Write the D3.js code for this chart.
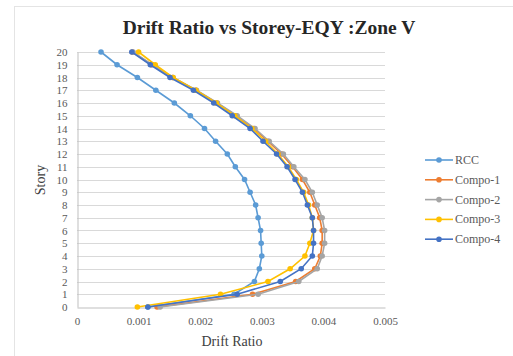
<!DOCTYPE html>
<html><head><meta charset="utf-8">
<script src="https://cdn.jsdelivr.net/npm/d3@7"></script>
<style>body{margin:0;background:#fff}svg{display:block}</style>
</head><body>
<script>
const storeys = [0,1,2,3,4,5,6,7,8,9,10,11,12,13,14,15,16,17,18,19,20];
const seriesNames = ["RCC","Compo-1","Compo-2","Compo-3","Compo-4"];
const seriesColors = ["#5B9BD5","#ED7D31","#A5A5A5","#FFC000","#4472C4"];
const rcc    = [0.00115,0.00255,0.00288,0.00296,0.00300,0.00299,0.00298,0.00294,0.00290,0.00281,0.00272,0.00257,0.00244,0.00225,0.00207,0.00184,0.00158,0.00128,0.00098,0.00065,0.00039];
const compo1 = [0.00130,0.00285,0.00355,0.00386,0.00395,0.00398,0.00398,0.00394,0.00386,0.00378,0.00366,0.00350,0.00332,0.00310,0.00287,0.00258,0.00227,0.00193,0.00155,0.00121,0.00090];
const compo2 = [0.00135,0.00294,0.00360,0.00390,0.00398,0.00402,0.00402,0.00398,0.00390,0.00382,0.00370,0.00352,0.00335,0.00312,0.00289,0.00260,0.00228,0.00194,0.00156,0.00122,0.00091];
const compo3 = [0.00098,0.00233,0.00310,0.00346,0.00370,0.00378,0.00384,0.00382,0.00376,0.00368,0.00356,0.00343,0.00326,0.00306,0.00284,0.00256,0.00226,0.00193,0.00156,0.00127,0.00100];
const compo4 = [0.00115,0.00260,0.00330,0.00364,0.00382,0.00384,0.00384,0.00382,0.00374,0.00366,0.00354,0.00341,0.00324,0.00302,0.00281,0.00252,0.00222,0.00189,0.00151,0.00119,0.00089];
const seriesValues = [rcc, compo1, compo2, compo3, compo4];
const xTicks = [0,0.001,0.002,0.003,0.004,0.005];
const xTickLabels = ["0","0.001","0.002","0.003","0.004","0.005"];
const yTicks = storeys;

const W=513,H=356;
const svg=d3.select("body").append("svg").attr("width",W).attr("height",H);
const serif="'Liberation Serif','DejaVu Serif',serif";

// chart border (faint)
svg.append("line").attr("x1",14).attr("x2",W).attr("y1",6.5).attr("y2",6.5).attr("stroke","#e4e4e4");
svg.append("line").attr("x1",14.5).attr("x2",14.5).attr("y1",6).attr("y2",H).attr("stroke","#e4e4e4");

const x=d3.scaleLinear().domain([0,0.005]).range([77,385]);
const y=d3.scaleLinear().domain([0,20]).range([307,52]);

// gridlines
svg.append("g").selectAll("line").data(yTicks.filter(d=>d>0)).join("line")
  .attr("x1",x(0)).attr("x2",x(0.005)).attr("y1",d=>Math.round(y(d))+0.5).attr("y2",d=>Math.round(y(d))+0.5)
  .attr("stroke","#d9d9d9").attr("stroke-width",1);

// axes
const xa=svg.append("g").attr("transform",`translate(0,${Math.round(y(0))+0.5})`)
  .call(d3.axisBottom(x).tickValues(xTicks).tickFormat((d,i)=>xTickLabels[i]).tickSize(0).tickPadding(10));
xa.select(".domain").attr("stroke","#bfbfbf");
xa.selectAll("text").attr("font-family",serif).attr("font-size",11).attr("fill","#595959");

const ya=svg.append("g").attr("transform",`translate(${Math.round(x(0))+0.5},0)`)
  .call(d3.axisLeft(y).tickValues(yTicks).tickFormat(d3.format("d")).tickSize(0).tickPadding(10));
ya.select(".domain").attr("stroke","#bfbfbf");
ya.selectAll("text").attr("font-family",serif).attr("font-size",11).attr("fill","#595959");

// series
const line=d3.line().x(d=>x(d[0])).y(d=>y(d[1]));
seriesValues.forEach((vals,i)=>{
  const pts=vals.map((v,j)=>[v,storeys[j]]);
  const g=svg.append("g");
  g.append("path").attr("d",line(pts)).attr("fill","none").attr("stroke",seriesColors[i]).attr("stroke-width",1.6);
  g.selectAll("circle").data(pts).join("circle").attr("cx",d=>x(d[0])).attr("cy",d=>y(d[1])).attr("r",2.8)
    .attr("fill",seriesColors[i]);
});

// title
svg.append("text").attr("x",269).attr("y",34).attr("text-anchor","middle")
  .attr("font-family",serif).attr("font-weight","bold").attr("font-size",19.5).attr("fill","#262626")
  .text("Drift Ratio vs Storey-EQY :Zone V");

// axis titles
svg.append("text").attr("x",232).attr("y",346).attr("text-anchor","middle")
  .attr("font-family",serif).attr("font-size",14).attr("fill","#404040").text("Drift Ratio");
svg.append("text").attr("transform","translate(45,180) rotate(-90)").attr("text-anchor","middle")
  .attr("font-family",serif).attr("font-size",14).attr("fill","#404040").text("Story");

// legend
const lg=svg.append("g");
seriesNames.forEach((n,i)=>{
  const yy=160+i*19.8;
  lg.append("line").attr("x1",425).attr("x2",453).attr("y1",yy).attr("y2",yy).attr("stroke",seriesColors[i]).attr("stroke-width",1.6);
  lg.append("circle").attr("cx",439).attr("cy",yy).attr("r",2.8).attr("fill",seriesColors[i]);
  lg.append("text").attr("x",455).attr("y",yy+4).attr("font-family",serif).attr("font-size",12).attr("fill","#595959").text(n);
});
</script>
</body></html>
